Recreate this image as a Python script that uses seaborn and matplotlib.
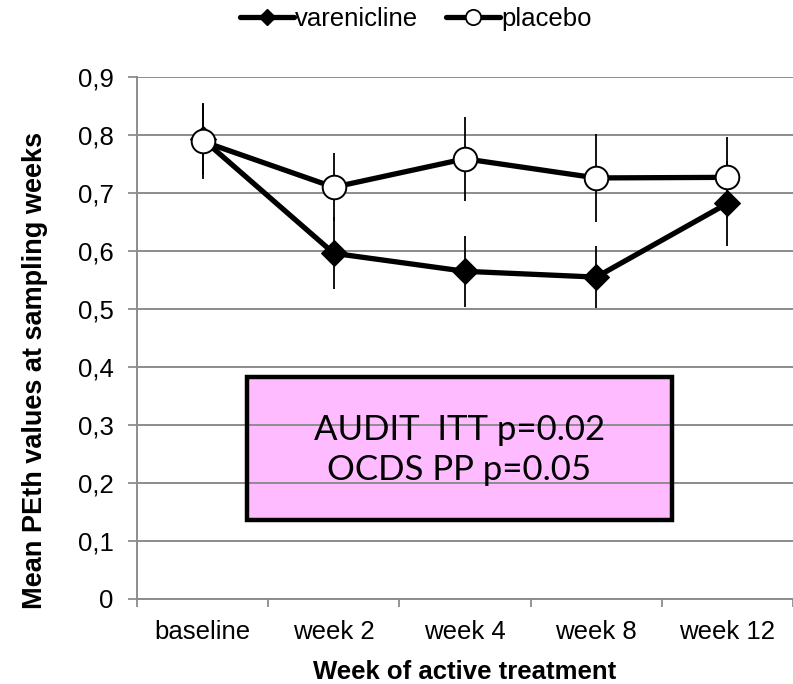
import matplotlib
matplotlib.use("Agg")
import matplotlib.pyplot as plt
from matplotlib.patches import Rectangle
from matplotlib.lines import Line2D
import seaborn as sns
import pandas as pd

# data
weeks = ["baseline", "week 2", "week 4", "week 8", "week 12"]
varenicline = [0.793, 0.596, 0.565, 0.555, 0.682]
varenicline_err = [0.062, 0.062, 0.061, 0.053, 0.073]
placebo = [0.789, 0.710, 0.759, 0.726, 0.727]
placebo_err = [0.064, 0.059, 0.072, 0.076, 0.070]
y_ticks = [0, 0.1, 0.2, 0.3, 0.4, 0.5, 0.6, 0.7, 0.8, 0.9]
y_tick_labels = ["0", "0,1", "0,2", "0,3", "0,4", "0,5", "0,6", "0,7", "0,8", "0,9"]
note_lines = ["AUDIT  ITT p=0.02", "OCDS PP p=0.05"]

sns.set_theme(style="white")
plt.rcParams["font.family"] = ["Liberation Sans", "DejaVu Sans"]
plt.rcParams["text.color"] = "black"
plt.rcParams["axes.labelcolor"] = "black"
plt.rcParams["xtick.labelcolor"] = "black"
plt.rcParams["ytick.labelcolor"] = "black"

pos = list(range(len(weeks)))
df = pd.DataFrame({
    "pos": pos * 2,
    "value": varenicline + placebo,
    "group": ["varenicline"] * len(weeks) + ["placebo"] * len(weeks),
})

fig = plt.figure(figsize=(7.93, 6.84), dpi=100)
ax = fig.add_axes([0.1728, 0.1243, 0.8272, 0.7631])

# error bars first so markers sit on top
ax.errorbar(pos, varenicline, yerr=varenicline_err, fmt="none", ecolor="black",
            elinewidth=1.3, capsize=0, zorder=2)
ax.errorbar(pos, placebo, yerr=placebo_err, fmt="none", ecolor="black",
            elinewidth=1.3, capsize=0, zorder=2)

sns.lineplot(data=df[df.group == "varenicline"], x="pos", y="value", ax=ax,
             color="black", linewidth=3.8, marker="D", markersize=13.5,
             markerfacecolor="black", markeredgecolor="black", zorder=3,
             legend=False)
sns.lineplot(data=df[df.group == "placebo"], x="pos", y="value", ax=ax,
             color="black", linewidth=3.8, marker="o", markersize=17,
             markerfacecolor="white", markeredgecolor="black",
             markeredgewidth=1.4, zorder=4, legend=False)

ax.set_xlim(-0.5, len(weeks) - 0.5)
ax.set_ylim(0, 0.9)
ax.set_yticks(y_ticks)
ax.set_yticklabels(y_tick_labels, fontsize=18.5)
ax.set_xticks(pos)
ax.set_xticklabels(weeks, fontsize=18.5)
ax.set_xticks([p - 0.5 for p in pos] + [len(weeks) - 0.5], minor=True)
ax.tick_params(axis="x", which="major", length=0, pad=15)
ax.tick_params(axis="x", which="minor", length=6, width=1.3, color="#8c8c8c",
               direction="out", bottom=True)
ax.tick_params(axis="y", length=6.5, width=1.3, color="#8c8c8c", direction="out",
               left=True, pad=10.5)

ax.grid(axis="y", color="#8c8c8c", linewidth=1.4)
ax.set_axisbelow(True)
for side in ["top", "right"]:
    ax.spines[side].set_visible(False)
for side in ["left", "bottom"]:
    ax.spines[side].set_color("#8c8c8c")
    ax.spines[side].set_linewidth(1.4)

ax.set_xlabel("Week of active treatment", fontsize=18.5, fontweight="bold",
              labelpad=12)
ax.set_ylabel("Mean PEth values at sampling weeks", fontsize=19.5,
              fontweight="bold")
ax.yaxis.set_label_coords(-0.1357, 0.437)

# pink annotation box
ax.add_patch(Rectangle((0.335, 0.136), 3.245, 0.247, facecolor="#ffbbff",
                       edgecolor="none", zorder=0.3))
ax.add_patch(Rectangle((0.335, 0.136), 3.245, 0.247, facecolor="none",
                       edgecolor="black", linewidth=3.2, zorder=2))
ax.text(1.955, 0.257, "\n".join(note_lines), ha="center", va="center",
        fontsize=25, family=["Lato", "DejaVu Sans"], linespacing=1.32, zorder=3)

handles = [
    Line2D([], [], color="black", linewidth=3.8, marker="D", markersize=8,
           markerfacecolor="black"),
    Line2D([], [], color="black", linewidth=3.8, marker="o", markersize=11,
           markerfacecolor="white", markeredgewidth=1.3),
]
fig.legend(handles, ["varenicline", "placebo"], loc="center",
           bbox_to_anchor=(416 / 793, 1 - 19 / 684), ncol=2, frameon=False,
           fontsize=18.5, handlelength=2.1, handletextpad=0.05,
           columnspacing=1.1)

fig.savefig("out.png", dpi=100)
